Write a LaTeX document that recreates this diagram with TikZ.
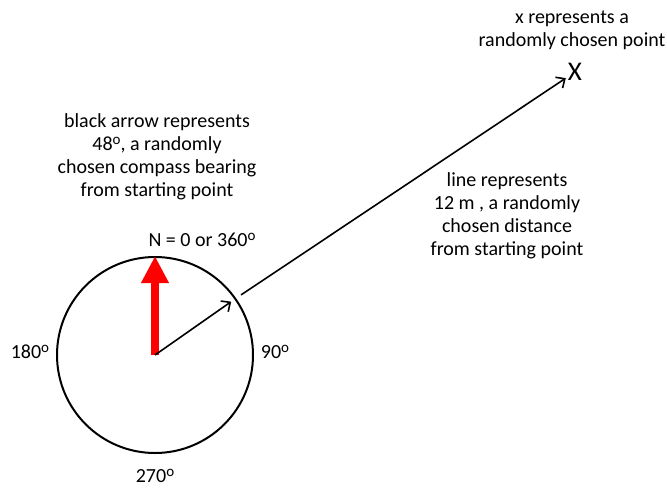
\documentclass[tikz,border=0pt]{standalone}
\usepackage{fontspec}
\setmainfont{Carlito}
\usetikzlibrary{arrows.meta}
\newcommand{\degsign}{\raisebox{0.7ex}{\fontsize{15}{15}\selectfont o}}
\begin{document}
\begin{tikzpicture}[x=1pt, y=-1pt,
        lbl/.style={align=center, font=\fontsize{20}{23}\selectfont, inner sep=0pt},
        pointer/.style={line width=1.6pt, -{Straight Barb[length=7pt,width=13pt]}}
    ]
    \useasboundingbox (0,0) rectangle (667,488);

    \node[draw, circle, line width=2pt, minimum size=196pt] (compass) at (155,355) {};

    \node[lbl] (pointtxt) at (572,30) {x represents a\\randomly chosen point};
    \node[lbl] (bearingtxt) at (157,157) {black arrow represents\\48\degsign, a randomly\\chosen compass bearing\\from starting point};
    \node[lbl] (disttxt) at (507,216) {line represents\\12 m , a randomly\\chosen distance\\from starting point};
    \node[lbl] (north) at (202,240) {N = 0 or 360\degsign};
    \node[lbl] (west) at (30,352) {180\degsign};
    \node[lbl] (east) at (275,352) {90\degsign};
    \node[lbl] (south) at (155,476) {270\degsign};
    \node[font=\fontsize{27}{27}\selectfont, inner sep=2pt] (pt) at (575,72) {X};

    \draw[red, line width=8pt, -{Triangle[width=26pt,length=27pt]}] (compass.center) -- (compass.north);
    \draw[pointer, shorten >=6pt] (compass.center) -- (compass.35);
    \draw[pointer, shorten <=6pt] (compass.35) -- (pt);
\end{tikzpicture}
\end{document}
